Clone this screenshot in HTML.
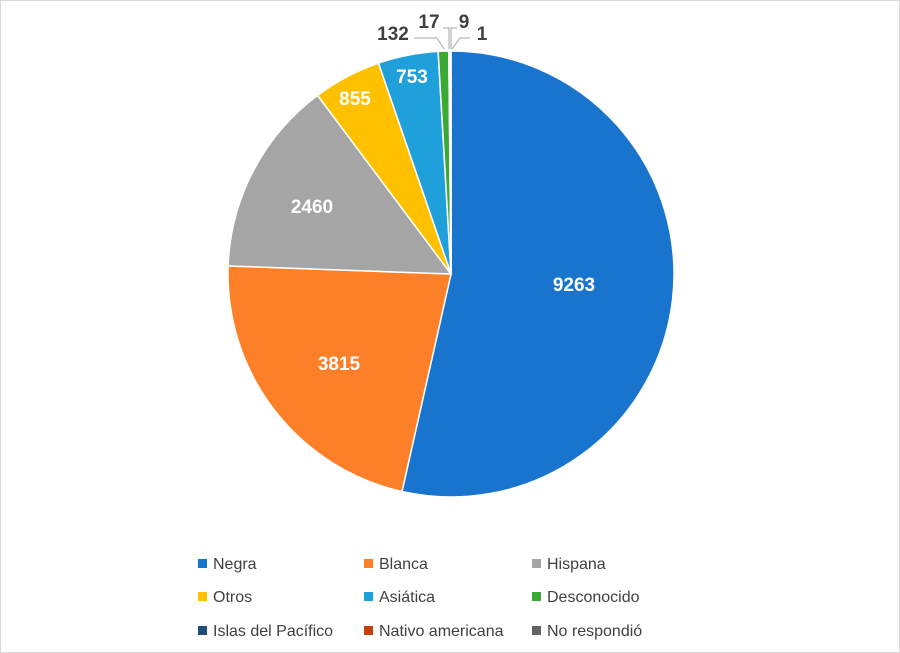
<!DOCTYPE html>
<html><head><meta charset="utf-8"><style>
html,body{margin:0;padding:0;background:#fff;}
#c{position:relative;width:898px;height:651px;border:1px solid #d9d9d9;overflow:hidden;font-family:"Liberation Sans",sans-serif;}
.lg{position:absolute;font-size:16px;color:#404040;line-height:18px;}
.lg i{display:inline-block;width:9px;height:9px;margin-right:6px;vertical-align:1px;}
</style></head><body><div id="c">
<svg id="s" width="898" height="651" style="position:absolute;left:0;top:0">
<g id="p"></g>
<g font-family="Liberation Sans, sans-serif" font-weight="bold" font-size="19" text-anchor="middle">
<text x="573" y="290" fill="#fff">9263</text>
<text x="338" y="369" fill="#fff">3815</text>
<text x="311" y="212" fill="#fff">2460</text>
<text x="354" y="104" fill="#fff">855</text>
<text x="411" y="82" fill="#fff">753</text>
<text x="392" y="39" fill="#404040">132</text>
<text x="428" y="27" fill="#404040">17</text>
<text x="463" y="27" fill="#404040">9</text>
<text x="481" y="39" fill="#404040">1</text>
</g>
<g stroke="#a6a6a6" stroke-width="1" fill="none">
<polyline points="413,37 436,37 443,48"/>
<polyline points="442,27 448,27 448,48"/>
<polyline points="456,27 450,27 450,48"/>
<polyline points="469,37 459,37 451,48"/>
</g>
</svg>
<div class="lg" style="left:197px;top:555px"><i style="background:#1874CD"></i>Negra</div>
<div class="lg" style="left:363px;top:555px"><i style="background:#FD7F28"></i>Blanca</div>
<div class="lg" style="left:531px;top:555px"><i style="background:#A5A5A5"></i>Hispana</div>
<div class="lg" style="left:197px;top:588px"><i style="background:#FFC000"></i>Otros</div>
<div class="lg" style="left:363px;top:588px"><i style="background:#20A0DB"></i>Asiática</div>
<div class="lg" style="left:531px;top:588px"><i style="background:#3AAA35"></i>Desconocido</div>
<div class="lg" style="left:197px;top:622px"><i style="background:#1F4E79"></i>Islas del Pacífico</div>
<div class="lg" style="left:363px;top:622px"><i style="background:#C0410C"></i>Nativo americana</div>
<div class="lg" style="left:531px;top:622px"><i style="background:#636363"></i>No respondió</div>
</div>
<script>
var v=[9263,3815,2460,855,753,132,17,9,1];
var col=["#1874CD","#FD7F28","#A5A5A5","#FFC000","#20A0DB","#3AAA35","#1F4E79","#C0410C","#636363"];
var t=0;for(var i=0;i<v.length;i++)t+=v[i];
var cx=450,cy=273,r=223,a=0,h="";
for(var i=0;i<v.length;i++){
 var a2=a+v[i]/t*2*Math.PI;
 var x1=cx+r*Math.sin(a),y1=cy-r*Math.cos(a),x2=cx+r*Math.sin(a2),y2=cy-r*Math.cos(a2);
 h+='<path d="M'+cx+','+cy+' L'+x1+','+y1+' A'+r+','+r+' 0 '+((a2-a)>Math.PI?1:0)+' 1 '+x2+','+y2+' Z" fill="'+col[i]+'" stroke="#fff" stroke-width="1.5"/>';
 a=a2;
}
document.getElementById("p").innerHTML=h;
</script>
</body></html>
